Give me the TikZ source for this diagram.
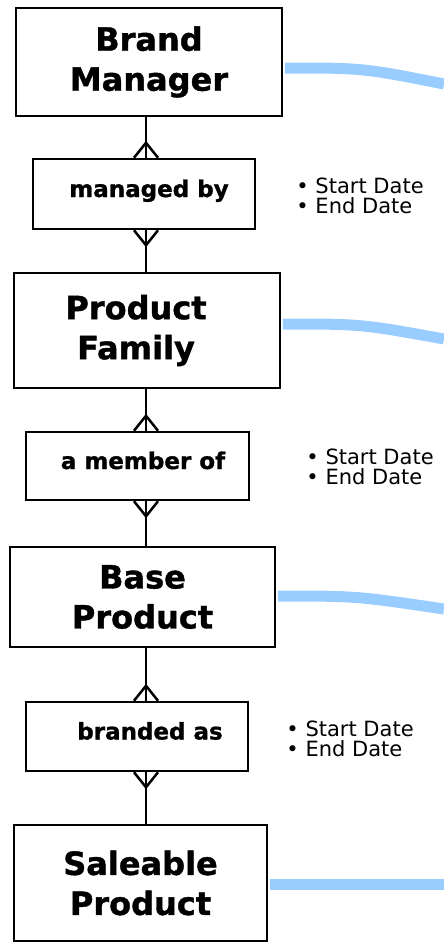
\documentclass[tikz,border=0pt]{standalone}
\usepackage{fontspec}
\setmainfont[BoldFeatures={FakeBold=1.2}]{DejaVu Sans}
\usetikzlibrary{positioning,calc}
\definecolor{LinkBlue}{HTML}{99CCFF}
\tikzstyle{Entity} = [draw, shape = rectangle, line width=2.5pt, inner sep=0pt, align=center, font=\fontsize{32}{40}\selectfont\bfseries]
\tikzstyle{Relation} = [draw, shape = rectangle, line width=2.5pt, inner sep=0pt, align=center, text height=16pt, text depth=10pt, font=\fontsize{23}{28}\selectfont\bfseries]
\tikzstyle{Dates} = [inner sep=0pt, anchor=west, align=left, font=\fontsize{21}{20}\selectfont]
\tikzstyle{Link} = [draw, line width=2.5pt]
\tikzstyle{Foot} = [draw, line width=2.5pt, line join=miter]
\tikzstyle{Tie} = [draw=LinkBlue, line width=11pt, shorten <=1.5pt]

\begin{document}
\begin{tikzpicture}[x=1pt,y=1pt]
        \useasboundingbox (0,0) rectangle (444,-948);

        %%%%% Entities and Relations %%%%%

        \draw (149,-62) node[Entity, minimum width=266pt, minimum height=108pt] (BM) {Brand\\Manager};
        \draw node[Relation, minimum width=222pt, minimum height=70pt] at ($(BM)+(-5,-132)$) (MB) {\hspace*{10pt}managed by};
        \draw node[Entity, minimum width=266pt, minimum height=115pt] at ($(MB)+(3,-136.5)$) (PF) {Product\hspace*{22pt}\\Family\hspace*{22pt}};
        \draw node[Relation, minimum width=223pt, minimum height=68pt] at ($(PF)+(-9.5,-135.5)$) (AM) {\hspace*{11pt}a member of};
        \draw node[Entity, minimum width=265pt, minimum height=100pt] at ($(AM)+(5,-131)$) (BP) {Base\\Product};
        \draw node[Relation, minimum width=222pt, minimum height=69pt] at ($(BP)+(-5.5,-139.5)$) (BA) {\hspace*{26pt}branded as};
        \draw node[Entity, minimum width=253pt, minimum height=116pt] at ($(BA)+(3.5,-146.5)$) (SP) {Saleable\\Product};

        %%%%% Dates %%%%%

        \node[Dates] at ($(MB.east)+(40,-1.5)$) (MBdates) {• Start Date\\• End Date};
        \node[Dates] at ($(AM.east)+(56,-0.5)$) (AMdates) {• Start Date\\• End Date};
        \node[Dates] at ($(BA.east)+(37,-2)$) (BAdates) {• Start Date\\• End Date};

        %%%%% Connecting Lines %%%%%

        \coordinate (spine) at (146,0);

        \draw [Link] (spine |- BM.south) -- (spine |- MB.north);
        \draw [Link] (spine |- MB.south) -- (spine |- PF.north);
        \draw [Link] (spine |- PF.south) -- (spine |- AM.north);
        \draw [Link] (spine |- AM.south) -- (spine |- BP.north);
        \draw [Link] (spine |- BP.south) -- (spine |- BA.north);
        \draw [Link] (spine |- BA.south) -- (spine |- SP.north);

        \draw [Foot] (spine |- MB.north) ++(-12,0) -- ++(12,15) -- ++(12,-15);
        \draw [Foot] (spine |- MB.south) ++(-12,0) -- ++(12,-15) -- ++(12,15);
        \draw [Foot] (spine |- AM.north) ++(-12,0) -- ++(12,15) -- ++(12,-15);
        \draw [Foot] (spine |- AM.south) ++(-12,0) -- ++(12,-15) -- ++(12,15);
        \draw [Foot] (spine |- BA.north) ++(-12,0) -- ++(12,15) -- ++(12,-15);
        \draw [Foot] (spine |- BA.south) ++(-12,0) -- ++(12,-15) -- ++(12,15);

        %%%%% Blue Ties %%%%%

        \coordinate (BMend) at (444,-84);
        \coordinate (PFend) at (444,-339);
        \coordinate (BPend) at (444,-609);
        \coordinate (SPend) at (444,-884);

        \draw [Tie] ([yshift=-6pt]BM.east) .. controls +(80,0) .. (BMend);
        \draw [Tie] ([yshift=6.5pt]PF.east) .. controls +(80,0) .. (PFend);
        \draw [Tie] ([yshift=1pt]BP.east) .. controls +(80,0) .. (BPend);
        \draw [Tie] ([yshift=-1pt]SP.east) -- (SPend);

\end{tikzpicture}
\end{document}
